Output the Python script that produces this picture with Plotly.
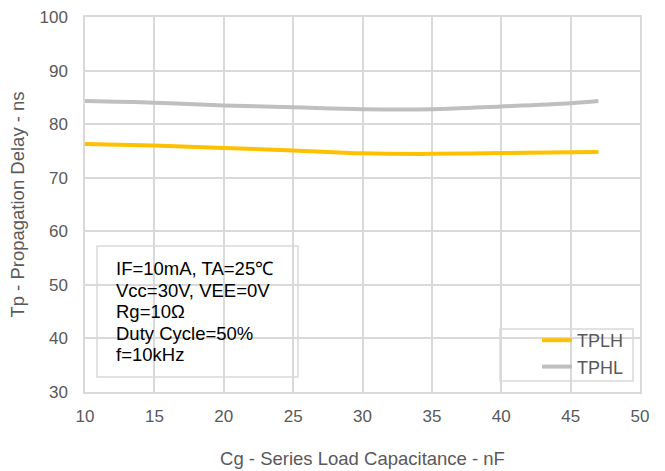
import plotly.graph_objects as go

cg = [10, 15, 20, 25, 30, 35, 40, 45, 47]
tplh = [76.3, 76.0, 75.55, 75.1, 74.55, 74.45, 74.6, 74.75, 74.8]
tphl = [84.3, 84.0, 83.5, 83.15, 82.8, 82.8, 83.3, 83.9, 84.3]
series_names = ["TPLH", "TPHL"]
x_ticks = [10, 15, 20, 25, 30, 35, 40, 45, 50]
y_ticks = [30, 40, 50, 60, 70, 80, 90, 100]
x_title = "Cg - Series Load Capacitance - nF"
y_title = "Tp - Propagation Delay - ns"
conditions = ["IF=10mA, TA=25℃", "Vcc=30V, VEE=0V", "Rg=10Ω", "Duty Cycle=50%", "f=10kHz"]

FONT = "Liberation Sans, Arial, sans-serif"
GRID = "#d9d9d9"
TXT = "#595959"

fig = go.Figure()
fig.add_trace(go.Scatter(x=cg, y=tplh, name=series_names[0], mode="lines",
                         line=dict(color="#FFC000", width=4, shape="spline")))
fig.add_trace(go.Scatter(x=cg, y=tphl, name=series_names[1], mode="lines",
                         line=dict(color="#BFBFBF", width=4, shape="spline")))

L, R, T, B = 85, 25, 17, 79
W, H = 665, 471
pw, ph = W - L - R, H - T - B

def px(xp):
    return (xp - L) / pw

def py(yp):
    return (H - B - yp) / ph

fig.update_layout(
    width=W, height=H,
    margin=dict(l=L, r=R, t=T, b=B, autoexpand=False),
    paper_bgcolor="white", plot_bgcolor="white",
    font=dict(family=FONT, size=17, color=TXT),
    showlegend=True,
    legend=dict(x=px(537), y=py(322), xanchor="left", yanchor="top",
                bgcolor="rgba(0,0,0,0)", borderwidth=0,
                font=dict(family=FONT, size=18, color=TXT),
                tracegroupgap=0, itemwidth=30),
    xaxis=dict(range=[10, 50], tickmode="array", tickvals=x_ticks, showgrid=True,
               gridcolor=GRID, gridwidth=1.5,
               zeroline=False, showline=True, linecolor=GRID, linewidth=1.5, mirror=True,
               ticks="outside", ticklen=8, tickcolor="white",
               tickfont=dict(family=FONT, size=17, color=TXT),
               title=dict(text=x_title, font=dict(family=FONT, size=18.5, color=TXT), standoff=27),
               automargin=False),
    yaxis=dict(range=[30, 100], tickmode="array", tickvals=y_ticks, showgrid=True,
               gridcolor=GRID, gridwidth=1.5,
               zeroline=False, showline=True, linecolor=GRID, linewidth=1.5, mirror=True,
               ticks="outside", ticklen=12, tickcolor="white",
               tickfont=dict(family=FONT, size=17, color=TXT),
               title=dict(text=y_title, font=dict(family=FONT, size=18.5, color=TXT), standoff=10),
               automargin=False),
)

# conditions text box
fig.add_shape(type="rect", xref="paper", yref="paper",
              x0=px(97), x1=px(298), y0=py(377), y1=py(246),
              line=dict(color=GRID, width=1.5))
line_y = [268, 290, 311.5, 333, 354.5]
for txt, yy in zip(conditions, line_y):
    fig.add_annotation(text=txt, xref="paper", yref="paper", x=px(114), y=py(yy),
                       xanchor="left", yanchor="middle", showarrow=False, align="left",
                       font=dict(family=FONT, size=18.5, color="#000000"))

# legend border
fig.add_shape(type="rect", xref="paper", yref="paper",
              x0=px(500), x1=px(633), y0=py(381), y1=py(329),
              line=dict(color=GRID, width=1.5))

fig.write_html("out.html")
